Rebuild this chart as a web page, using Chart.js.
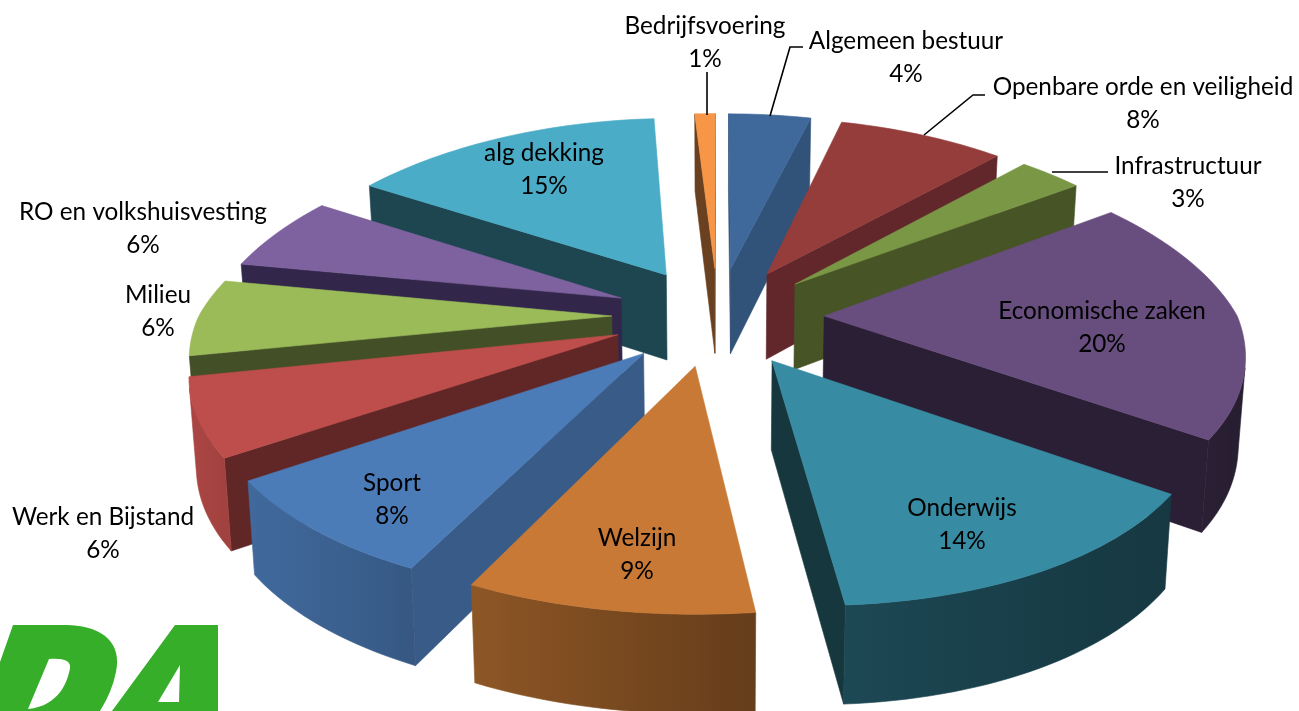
<!DOCTYPE html>
<html><head><meta charset="utf-8">
<style>html,body{margin:0;padding:0;background:#fff}canvas{display:block}</style>
<script src="https://cdn.jsdelivr.net/npm/chart.js@4/dist/chart.umd.min.js"></script>
</head><body>
<canvas id="c" width="1299" height="711"></canvas>
<script>
const categories = ["Algemeen bestuur","Openbare orde en veiligheid","Infrastructuur","Economische zaken","Onderwijs","Welzijn","Sport","Werk en Bijstand","Milieu","RO en volkshuisvesting","alg dekking","Bedrijfsvoering"];
const percentages = [4,8,3,20,14,9,8,6,6,6,15,1];
const topColors = ["#3F689B","#953D3B","#7A9746","#684E7F","#378BA3","#C77935","#4C7CB8","#BE4E4B","#9BBB59","#7E62A0","#4AACC6","#F79646"];
const wallColors = ["#325379","#61272A","#475426","#2A1F35","#17373F","#7A4A20","#395B87","#612727","#434F26","#32274A","#1D4650","#6A4120"];
const labelCenters = [[906,41],[1143,87],[1188,166],[1102,311],[962,508],[637,538],[392,483],[103,517],[158,295],[143,212],[544,153],[705,26]];
const leaders = [[[770,116],[790,47],[803,47]],[[924,135],[973,95],[985,95]],[[1052,172],[1108,172]],[[707,72],[707,115]]];

// view of the tilted pie
const VIEW = {cx:718, cy:316, Rx:413, A:192, ky:.153, kxBack:.205, kxFront:.15, shift:22, roll:12, skew:12, depth:87, kd:.1, taper:.014};
function project(u,v,z){
  const fy = 1/(1-VIEW.ky*v);
  const fx = 1/(1-(v<0?VIEW.kxBack:VIEW.kxFront)*v);
  const frontLeft = v>0&&u<0 ? u*v : 0;
  let x = VIEW.cx + VIEW.Rx*u*fx + (v>0?VIEW.shift*v*v:0) + VIEW.skew*frontLeft;
  let y = VIEW.cy + VIEW.A*v*fy - VIEW.roll*frontLeft;
  if(z){ x = VIEW.cx + (x-VIEW.cx)*(1-VIEW.taper*z); y += z*VIEW.depth/(1-VIEW.kd*v); }
  return [x,y];
}
function area(p){let s=0;for(let i=0;i<p.length;i++){const a=p[i],b=p[(i+1)%p.length];s+=a[0]*b[1]-b[0]*a[1];}return s;}
function poly(ctx,p,fill){ctx.beginPath();p.forEach((q,i)=>i?ctx.lineTo(q[0],q[1]):ctx.moveTo(q[0],q[1]));ctx.closePath();ctx.fillStyle=fill;ctx.fill();ctx.strokeStyle=fill;ctx.lineWidth=.6;ctx.stroke();}
function shade(hex,f){const n=parseInt(hex.slice(1),16);return `rgb(${(n>>16&255)*f|0},${(n>>8&255)*f|0},${(n&255)*f|0})`;}
function rimWall(ctx,rim,ox,hex){
  // one polygon for the visible part of the rim, shaded along its length
  let run=[];
  const flush=()=>{
    if(run.length<2){run=[];return;}
    const top=run.map(p=>project(p[0],p[1],0)), bot=run.map(p=>project(p[0],p[1],1)).reverse();
    const x0=top[0][0], x1=top[top.length-1][0];
    const g=ctx.createLinearGradient(x0,0,x1===x0?x0+1:x1,0);
    run.forEach((p,k)=>{const u=p[0]-ox;const f=u<0?.53-.38*u:.53-.15*u;g.addColorStop(k/(run.length-1),shade(hex,f));});
    poly(ctx,[...top,...bot],g);
    run=[];
  };
  for(let k=0;k<rim.length-1;k++){
    const a=rim[k],b=rim[k+1];
    const q=[project(a[0],a[1],0),project(b[0],b[1],0),project(b[0],b[1],1),project(a[0],a[1],1)];
    if(area(q)<0){ if(!run.length)run.push(a); run.push(b);} else flush();
  }
  flush();
}
const pie3d = {
  id:'pie3d',
  beforeDatasetDraw(){ return false; },
  afterDraw(chart){
    const ctx = chart.ctx, arcs = chart.getDatasetMeta(0).data;
    const items = arcs.map((arc,i)=>{
      const {startAngle:s,endAngle:e,outerRadius:r} = arc.getProps(['startAngle','endAngle','outerRadius'],true);
      const o = arc.options.offset/r, mid=(s+e)/2;
      return {i,s,e,ox:o*Math.cos(mid),oy:o*Math.sin(mid)};
    }).sort((a,b)=>a.oy-b.oy);
    ctx.save();
    logo(ctx);
    for(const it of items){
      const n=Math.max(4,Math.ceil((it.e-it.s)/(Math.PI/120)));
      const rim=[];
      for(let k=0;k<=n;k++){const a=it.s+(it.e-it.s)*k/n;rim.push([Math.cos(a)+it.ox,Math.sin(a)+it.oy]);}
      const apex=[it.ox,it.oy];
      const wall=(a,b,fill)=>{const q=[project(a[0],a[1],0),project(b[0],b[1],0),project(b[0],b[1],1),project(a[0],a[1],1)];if(area(q)<0)poly(ctx,q,fill);};
      wall(apex,rim[0],wallColors[it.i]);
      wall(rim[n],apex,wallColors[it.i]);
      rimWall(ctx,rim,it.ox,topColors[it.i]);
      poly(ctx,[apex,...rim].map(p=>project(p[0],p[1],0)),topColors[it.i]);
    }
    ctx.strokeStyle='#000';ctx.lineWidth=1.6;
    leaders.forEach(l=>{ctx.beginPath();l.forEach((p,i)=>i?ctx.lineTo(p[0],p[1]):ctx.moveTo(p[0],p[1]));ctx.stroke();});
    ctx.fillStyle='#000';ctx.textAlign='center';ctx.textBaseline='middle';ctx.font='24.3px Lato, Carlito, sans-serif';
    categories.forEach((c,i)=>{const [x,y]=labelCenters[i];ctx.fillText(c,x,y+.5);ctx.fillText(percentages[i]+'%',x,y+33.5);});
    ctx.restore();
  }
};
function logo(ctx){
  ctx.fillStyle='#36AE2A';
  ctx.beginPath();
  ctx.moveTo(13,625);ctx.lineTo(68,625);ctx.bezierCurveTo(105,626,122,645,116,672);ctx.quadraticCurveTo(112,692,100,711);ctx.lineTo(0,711);ctx.lineTo(0,662);ctx.closePath();
  ctx.moveTo(49,659);ctx.lineTo(28,709);ctx.bezierCurveTo(60,706,68,680,70,668);ctx.bezierCurveTo(71,661,64,658,49,659);ctx.closePath();
  ctx.moveTo(175,625);ctx.lineTo(218,625);ctx.lineTo(218,711);ctx.lineTo(112,711);ctx.closePath();
  ctx.moveTo(180,665);ctx.lineTo(158,702);ctx.lineTo(179,702);ctx.closePath();
  ctx.fill('evenodd');
}
new Chart(document.getElementById('c'),{
  type:'pie',
  data:{labels:categories,datasets:[{data:percentages,backgroundColor:topColors,offset:81,borderWidth:0}]},
  options:{responsive:false,animation:false,plugins:{legend:{display:false},tooltip:{enabled:false}},layout:{padding:0}},
  plugins:[pie3d]
});
</script>
</body></html>
